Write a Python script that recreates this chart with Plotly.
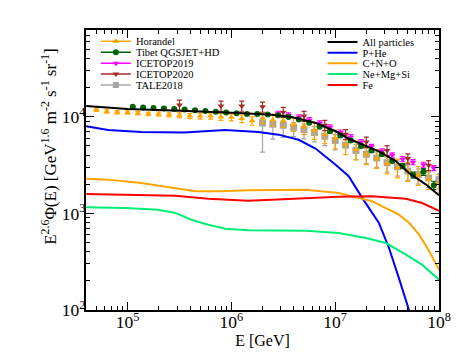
import plotly.graph_objects as go

# ---------------- model curves (E in GeV, E^2.6 flux) ----------------
all_E = [4.0e4, 1.0e5, 3.2e5, 1.0e6, 1.17e6, 2.44e6, 3.8e6, 6.5e6, 1.01e7, 1.35e7,
         1.98e7, 2.64e7, 3.86e7, 5.14e7, 7.5e7, 1.0e8]
all_F = [1.30e4, 1.21e4, 1.16e4, 1.11e4, 1.10e4, 1.05e4, 9.98e3, 8.65e3, 7.1e3, 5.94e3,
         4.95e3, 4.4e3, 3.47e3, 2.62e3, 1.99e3, 1.54e3]

phe_E = [4.0e4, 6.5e4, 1.35e5, 3.5e5, 8.7e5, 1.46e6, 1.83e6, 2.85e6, 4.45e6, 6.46e6,
         1.01e7, 1.35e7, 1.82e7, 2.64e7, 3.3e7, 4.11e7, 5.14e7]
phe_F = [8.0e3, 7.3e3, 6.98e3, 6.9e3, 7.3e3, 7.15e3, 6.98e3, 6.55e3, 5.8e3, 4.7e3,
         3.2e3, 2.43e3, 1.45e3, 795, 439, 214, 100]

cno_E = [4.0e4, 6.5e4, 1.35e5, 2.88e5, 4.5e5, 8.0e5, 1.46e6, 5.2e6, 1.08e7, 2.26e7,
         4.11e7, 5.14e7, 6.43e7, 8.0e7, 1.0e8]
cno_F = [2290, 2240, 2065, 1835, 1695, 1695, 1740, 1760, 1630, 1340,
         971, 800, 603, 410, 261]

nemgsi_E = [4.0e4, 9.5e4, 1.98e5, 2.88e5, 4.12e5, 6.0e5, 8.77e5, 1.46e6, 5.2e6, 1.08e7,
            1.98e7, 3.08e7, 4.81e7, 6.87e7, 1.0e8]
nemgsi_F = [1159, 1138, 1094, 1012, 861, 764, 695, 668, 662, 628,
            557, 494, 374, 294, 206]

fe_E = [4.0e4, 1.35e5, 2.88e5, 6.0e5, 1.46e6, 2.44e6, 5.2e6, 1.08e7, 2.26e7, 3.3e7,
        4.81e7, 6.87e7, 1.0e8]
fe_F = [1590, 1563, 1528, 1422, 1355, 1387, 1445, 1490, 1503, 1469,
        1422, 1283, 1067]

# ---------------- experimental data ----------------
hor_logE = [4.7, 4.8, 4.9, 5.0, 5.1, 5.2, 5.3, 5.4, 5.5, 5.6, 5.7, 5.8, 5.9, 6.0, 6.1,
            6.2, 6.3, 6.4, 6.5, 6.6, 6.7, 6.8, 6.9, 7.0, 7.1, 7.2, 7.3, 7.4, 7.5, 7.6,
            7.7, 7.8, 7.9, 8.0]
hor_F = [1.19e4, 1.14e4, 1.12e4, 1.11e4, 1.09e4, 1.07e4, 1.07e4, 1.05e4, 1.04e4, 1.02e4,
         1.02e4, 1.02e4, 1.00e4, 9.9e3, 9.6e3, 9.1e3, 9.7e3, 9.3e3, 9.1e3, 8.4e3,
         8.0e3, 7.3e3, 6.6e3, 6.0e3, 5.2e3, 4.6e3, 4.1e3, 3.75e3, 3.3e3, 3.0e3,
         2.75e3, 2.5e3, 2.26e3, 2.07e3]
hor_rel = [0.04, 0.04, 0.04, 0.04, 0.04, 0.04, 0.05, 0.05, 0.06, 0.06, 0.07, 0.07, 0.08, 0.08, 0.09,
           0.10, 0.12, 0.14, 0.15, 0.16, 0.18, 0.20, 0.20, 0.22, 0.22, 0.22, 0.22, 0.22, 0.22, 0.22,
           0.22, 0.22, 0.22, 0.22]

tib_logE = [5.05, 5.15, 5.25, 5.35, 5.45, 5.55, 5.65, 5.75, 5.85, 5.95, 6.05, 6.15, 6.25, 6.35,
            6.45, 6.55, 6.65, 6.75, 6.85, 6.95, 7.05, 7.15, 7.25, 7.35, 7.45, 7.55, 7.65, 7.75,
            7.85, 7.95]
tib_F = [1.27e4, 1.25e4, 1.24e4, 1.22e4, 1.21e4, 1.19e4, 1.17e4, 1.15e4, 1.13e4, 1.11e4,
         1.09e4, 1.07e4, 1.07e4, 1.06e4, 1.04e4, 1.00e4, 9.4e3, 8.7e3, 7.9e3, 7.1e3,
         6.4e3, 5.7e3, 5.0e3, 4.5e3, 4.1e3, 3.5e3, 3.1e3, 2.5e3, 2.7e3, 1.96e3]
tib_rel = [0.02] * 14 + [0.03] * 6 + [0.04] * 6 + [0.06, 0.07, 0.08, 0.10]

ice19_logE = [6.45, 6.55, 6.65, 6.75, 6.85, 6.95, 7.05, 7.15, 7.25, 7.35, 7.45, 7.55, 7.65,
              7.75, 7.85, 7.95]
ice19_F = [1.08e4, 1.04e4, 9.9e3, 9.3e3, 8.6e3, 7.8e3, 6.9e3, 6.2e3, 5.5e3, 4.9e3, 4.4e3,
           4.0e3, 3.65e3, 3.4e3, 3.2e3, 2.95e3]
ice19_rel = [0.06] * 16

ice20_logE = [5.5, 5.9, 6.1, 6.3, 6.5, 6.7, 6.9, 7.1, 7.3, 7.5, 7.7, 7.9]
ice20_F = [1.33e4, 1.30e4, 1.30e4, 1.27e4, 1.12e4, 1.02e4, 8.2e3, 6.6e3, 5.5e3, 4.5e3, 3.7e3, 3.15e3]
ice20_rel = [0.12] * 12

tale_logE = [6.3, 6.4, 6.5, 6.6, 6.7, 6.8, 6.9, 7.0, 7.1, 7.2, 7.3, 7.4, 7.5, 7.6, 7.7, 7.8, 7.9, 8.0]
tale_F = [8650, 8400, 8200, 7800, 7400, 6900, 6300, 5700, 5100, 4500, 4100, 3750, 3350, 3050,
          2750, 2520, 2330, 2240]
tale_rel_up = [0.05, 0.08, 0.10, 0.12, 0.14, 0.15, 0.15, 0.15, 0.15, 0.15, 0.15, 0.15, 0.15,
               0.15, 0.15, 0.15, 0.15, 0.15]
tale_rel_dn = [0.50, 0.30, 0.25, 0.20, 0.20, 0.20, 0.20, 0.20, 0.20, 0.20, 0.20, 0.20, 0.20,
               0.20, 0.20, 0.20, 0.20, 0.20]

# legend labels (left: data sets, right: model components)
data_names = ["Horandel", "Tibet QGSJET+HD", "ICETOP2019", "ICETOP2020", "TALE2018"]
model_names = ["All particles", "P+He", "C+N+O", "Ne+Mg+Si", "Fe"]

FONT = "Liberation Serif, Times New Roman, Times, serif"

fig = go.Figure()


def errs(vals, rel):
    return [v * r for v, r in zip(vals, rel)]


def add_data(name, logE, F, rel_up, rel_dn, color, symbol, size):
    E = [10 ** l for l in logE]
    fig.add_trace(go.Scatter(
        x=E, y=F, mode="markers", name=name, showlegend=False, legendgroup=name,
        marker=dict(color=color, symbol=symbol, size=size, line=dict(width=0)),
        error_y=dict(type="data", array=errs(F, rel_up), arrayminus=errs(F, rel_dn),
                     color=color, thickness=1.2, width=2.5),
    ))


add_data("TALE2018", tale_logE, tale_F, tale_rel_up, tale_rel_dn, "#A6A6A6", "square", 7)
add_data("Horandel", hor_logE, hor_F, hor_rel, hor_rel, "#FFA500", "triangle-up", 6)
add_data("ICETOP2019", ice19_logE, ice19_F, ice19_rel, ice19_rel, "#FF00FF", "triangle-down", 6)
add_data("ICETOP2020", ice20_logE, ice20_F, ice20_rel, ice20_rel, "#A52A2A", "triangle-down", 6)
add_data("Tibet QGSJET+HD", tib_logE, tib_F, tib_rel, tib_rel, "#006400", "circle", 6)

model_series = [(all_E, all_F, "black"), (phe_E, phe_F, "#0000FF"), (cno_E, cno_F, "#FFA500"),
                (nemgsi_E, nemgsi_F, "#00EE76"), (fe_E, fe_F, "#FF0000")]
data_styles = [("#FFA500", "triangle-up"), ("#006400", "circle"), ("#FF00FF", "triangle-down"),
               ("#A52A2A", "triangle-down"), ("#A6A6A6", "square")]

# one single-entry legend per row, so that rows can sit as tightly as in the original
# (values: anchor of each one-row legend box, in pixels from the figure top)
row_y_left = [33.3, 44.2, 55.2, 66.1, 77.1]
row_y_right = [34.0, 44.7, 55.3, 66.0, 77.0]
legends = {}
k = 2
for i, (name, (c, s)) in enumerate(zip(data_names, data_styles)):
    lname = f"legend{k}"
    fig.add_trace(go.Scatter(x=[None], y=[None], mode="lines+markers", name=name,
                             legend=lname, legendgroup=name,
                             line=dict(color=c, width=1.5),
                             marker=dict(color=c, symbol=s, size=6)))
    legends[lname] = (0.028, 1 - row_y_left[i] / 357)
    k += 1
for i, (name, (E, F, c)) in enumerate(zip(model_names, model_series)):
    lname = f"legend{k}"
    fig.add_trace(go.Scatter(x=E, y=F, mode="lines", name=name, legend=lname,
                             line=dict(color=c, width=2)))
    legends[lname] = (0.67, 1 - row_y_right[i] / 357)
    k += 1

axis_common = dict(
    type="log", showline=True, linecolor="black", linewidth=1.5, mirror="allticks",
    ticks="inside", ticklen=8, tickwidth=1.2, tickcolor="black", showgrid=False, zeroline=False,
    dtick=1, exponentformat="power", ticklabelstandoff=-4,
    tickfont=dict(family=FONT, size=14, color="black"),
    minor=dict(ticks="inside", ticklen=4, tickwidth=1, tickcolor="black", showgrid=False),
)

layout = dict(
    width=463, height=357,
    margin=dict(l=78, r=32, t=22, b=55, autoexpand=False),
    paper_bgcolor="white", plot_bgcolor="white",
    font=dict(family=FONT, color="black"),
    showlegend=True,
    xaxis=dict(range=[4.6, 8.0],
               title=dict(text="E [GeV]", font=dict(family=FONT, size=16), standoff=2),
               **axis_common),
    yaxis=dict(range=[2.0, 4.9], **axis_common),
    annotations=[dict(
        text="E<sup>2.6</sup>Φ(E) [GeV<sup>1.6</sup> m<sup>-2</sup> s<sup>-1</sup> sr<sup>-1</sup>]",
        xref="paper", yref="paper", x=-0.105, y=0.586, xanchor="center", yanchor="middle",
        textangle=-90, showarrow=False, font=dict(family=FONT, size=17, color="black"))],
)
for lname, (lx, ly) in legends.items():
    layout[lname] = dict(x=lx, y=ly, xanchor="left", yanchor="middle", yref="container",
                         bgcolor="rgba(0,0,0,0)", borderwidth=0,
                         font=dict(family=FONT, size=10.5, color="black"))
fig.update_layout(**layout)

fig.write_html("out.html")
